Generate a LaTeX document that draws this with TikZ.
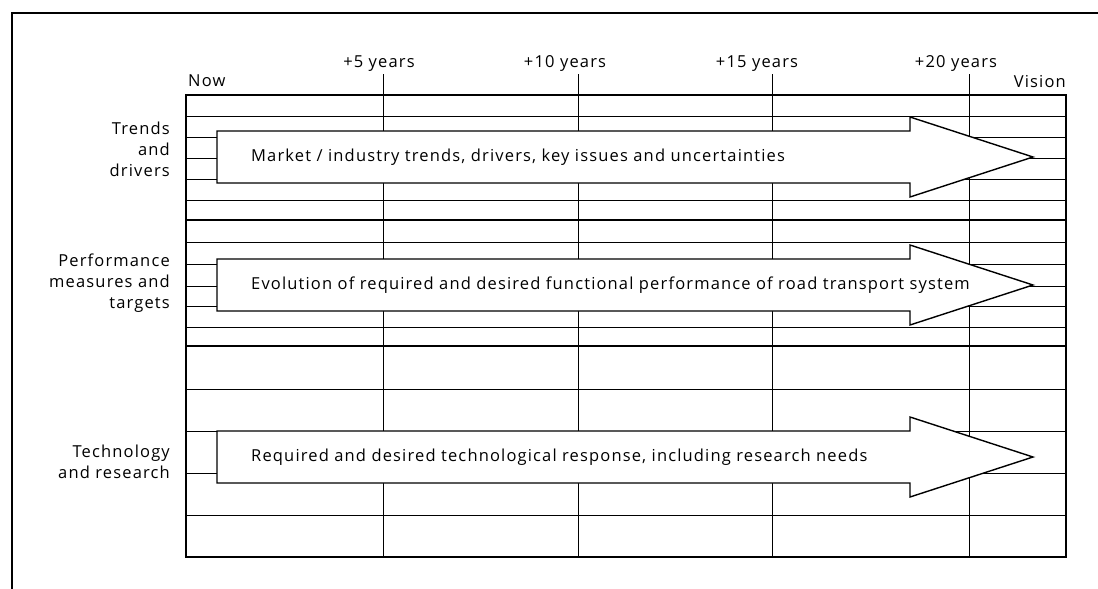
\documentclass[tikz,border=0pt]{standalone}
\usepackage{fontspec}
\setmainfont{Open Sans}[LetterSpace=7]
\usepackage{tikz}
\usetikzlibrary{positioning}

\begin{document}
\begin{tikzpicture}[
    x=1pt, y=-1pt,
    gridline/.style={line width=0.9pt},
    bandline/.style={line width=2.2pt},
    frame/.style={line width=1.4pt},
    yearline/.style={line width=0.9pt},
    roadarrow/.style={draw, fill=white, line width=1.4pt, line join=miter},
    heading/.style={font=\fontsize{16.5}{21}\selectfont, inner sep=0pt, anchor=base},
    rowlabel/.style={font=\fontsize{16.5}{21}\selectfont, align=right, anchor=east, inner sep=0pt},
    arrowtext/.style={font=\fontsize{16.5}{21}\selectfont, anchor=west, inner sep=0pt}
]
\useasboundingbox (0,0) rectangle (1098,589);

% Outer frame, runs off the page
\draw[frame] (12,589) -- (12,13) -- (1098,13);

% Time axis
\node[heading, anchor=base west] (now) at (188,86) {Now};
\node[heading, anchor=base east] (vision) at (1066,87) {Vision};
\foreach \x/\lx/\yr in {383/379/5, 578/565/10, 772/757/15, 969/956/20} {
  \node[heading] (yr\yr) at (\lx,67) {+\yr\ years};
  \draw[yearline] (\x,74) -- (\x,557);
}

% Grid rows
\foreach \y in {116,137,158,179,200,242,264,286,306,327,389,431,473,515}
  \draw[gridline] (186,\y) -- (1066,\y);
\draw[bandline] (186,220) -- (1066,220);
\draw[bandline] (186,346) -- (1066,346);
\draw[frame] (186,95) rectangle (1066,557);

% Trends and drivers
\node[rowlabel] (trends) at (170,149) {Trends\\and\\drivers};
\draw[roadarrow] (217,131) -- (910,131) -- (910,117) -- (1033,157)
  -- (910,197) -- (910,183) -- (217,183) -- cycle;
\node[arrowtext] (market) at (251,157)
  {Market / industry trends, drivers, key issues and uncertainties};

% Performance measures and targets
\node[rowlabel] (perf) at (170,283) {Performance\\measures and\\targets};
\draw[roadarrow] (217,259) -- (910,259) -- (910,245) -- (1033,285)
  -- (910,325) -- (910,311) -- (217,311) -- cycle;
\node[arrowtext] (evolution) at (251,285)
  {Evolution of required and desired functional performance of road transport system};

% Technology and research
\node[rowlabel] (tech) at (170,462) {Technology\\and research};
\draw[roadarrow] (217,431) -- (910,431) -- (910,417) -- (1033,457)
  -- (910,497) -- (910,483) -- (217,483) -- cycle;
\node[arrowtext] (response) at (251,457)
  {Required and desired technological response, including research needs};

\end{tikzpicture}
\end{document}
